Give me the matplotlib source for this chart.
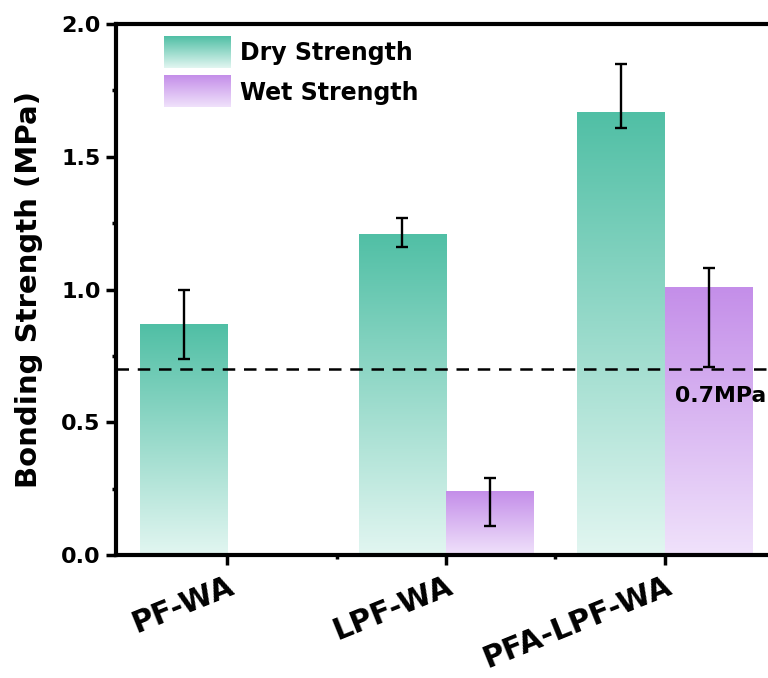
import matplotlib
matplotlib.use("Agg")
import matplotlib.pyplot as plt
import numpy as np
from matplotlib.colors import LinearSegmentedColormap
from matplotlib.legend_handler import HandlerBase
from matplotlib.image import BboxImage
from matplotlib.patches import Patch
from matplotlib.transforms import Bbox, TransformedBbox, ScaledTranslation

plt.rcParams["font.family"] = ["DejaVu Sans"]
plt.rcParams["font.weight"] = "bold"

# data
samples = ["PF-WA", "LPF-WA", "PFA-LPF-WA"]
dry = [0.87, 1.21, 1.67]
dry_err_low = [0.13, 0.05, 0.06]
dry_err_high = [0.13, 0.06, 0.18]
wet = [0.0, 0.24, 1.01]
wet_err_low = [0.0, 0.13, 0.30]
wet_err_high = [0.0, 0.05, 0.07]
threshold = 0.7

dry_cmap = LinearSegmentedColormap.from_list("dry", ["#e2f6f1", "#50bfa5"])
wet_cmap = LinearSegmentedColormap.from_list("wet", ["#f0e2fb", "#c48ee9"])
grad = np.linspace(0, 1, 256).reshape(-1, 1)


class GradientHandler(HandlerBase):
    def create_artists(self, legend, orig_handle, xdescent, ydescent,
                       width, height, fontsize, trans):
        bb = Bbox.from_bounds(-xdescent, -ydescent, width, height)
        img = BboxImage(TransformedBbox(bb, trans), cmap=orig_handle.cmap,
                        origin="lower", interpolation="bilinear")
        img.set_data(grad)
        return [img]


class GradPatch(Patch):
    def __init__(self, cmap, **kw):
        super().__init__(**kw)
        self.cmap = cmap


def gradient_bars(ax, x, heights, cmap, width):
    bars = ax.bar(x, heights, width=width, align="edge", facecolor="none",
                  edgecolor="none", zorder=2)
    for b in bars:
        h = b.get_height()
        if h <= 0:
            continue
        x0 = b.get_x()
        im = ax.imshow(grad, cmap=cmap, origin="lower", aspect="auto",
                       extent=(x0, x0 + b.get_width(), 0, h),
                       interpolation="bilinear", zorder=1)
        im.set_clip_path(b)
    return bars


fig = plt.figure(figsize=(7.68, 6.78), dpi=100)
ax = fig.add_axes([0.151, 0.1814, 0.857, 0.7832])

x = np.arange(1, len(samples) + 1)
w = 0.4
gradient_bars(ax, x - w, dry, dry_cmap, w)
gradient_bars(ax, x, wet, wet_cmap, w)

ax.errorbar(x - w / 2, dry, yerr=[dry_err_low, dry_err_high], fmt="none",
            ecolor="black", elinewidth=1.7, capsize=4, capthick=1.7, zorder=3)
wx = [xi + w / 2 for xi, v in zip(x, wet) if v > 0]
wv = [v for v in wet if v > 0]
wl = [e for e, v in zip(wet_err_low, wet) if v > 0]
wh = [e for e, v in zip(wet_err_high, wet) if v > 0]
ax.errorbar(wx, wv, yerr=[wl, wh], fmt="none", ecolor="black",
            elinewidth=1.7, capsize=4, capthick=1.7, zorder=3)

ax.axhline(threshold, color="black", linewidth=1.8, linestyle=(0, (5, 3.5)),
           zorder=4)
ax.text(3.046, 0.576, "0.7MPa", fontsize=15.8, fontweight="bold",
        va="baseline", ha="left", zorder=5)

ax.set_xlim(0.49, 3.5)
ax.set_ylim(0, 2.0)
ax.set_yticks([0.0, 0.5, 1.0, 1.5, 2.0])
ax.set_yticks([0.25, 0.75, 1.25, 1.75], minor=True)
ax.set_xticks(x)
ax.set_xticks([1.5, 2.5], minor=True)
ax.set_yticklabels([f"{v:.1f}" for v in [0.0, 0.5, 1.0, 1.5, 2.0]],
                   fontsize=16, fontweight="bold")
ax.set_xticklabels(samples, fontsize=21.5, fontweight="bold", rotation=22,
                   ha="right", va="top", rotation_mode="anchor")
offset = ScaledTranslation(0.38, 0.0, fig.dpi_scale_trans)
for lab in ax.get_xticklabels():
    lab.set_transform(lab.get_transform() + offset)

for side in ax.spines.values():
    side.set_linewidth(3)
ax.tick_params(which="major", direction="out", length=7, width=2.5, pad=4)
ax.tick_params(which="minor", direction="out", length=3, width=2.5)
ax.tick_params(axis="x", which="major", pad=5)

ax.set_ylabel("Bonding Strength (MPa)", fontsize=21, fontweight="bold")
ax.yaxis.set_label_coords(-0.111, 0.5)

handles = [GradPatch(dry_cmap), GradPatch(wet_cmap)]
ax.legend(handles, ["Dry Strength", "Wet Strength"],
          handler_map={GradPatch: GradientHandler()},
          loc="upper left", bbox_to_anchor=(0.073, 0.9755), frameon=False,
          prop={"size": 17, "weight": "bold"}, handlelength=2.8,
          handleheight=1.65, labelspacing=0.35, handletextpad=0.4,
          borderpad=0, borderaxespad=0)

fig.savefig("out.png", dpi=100)
